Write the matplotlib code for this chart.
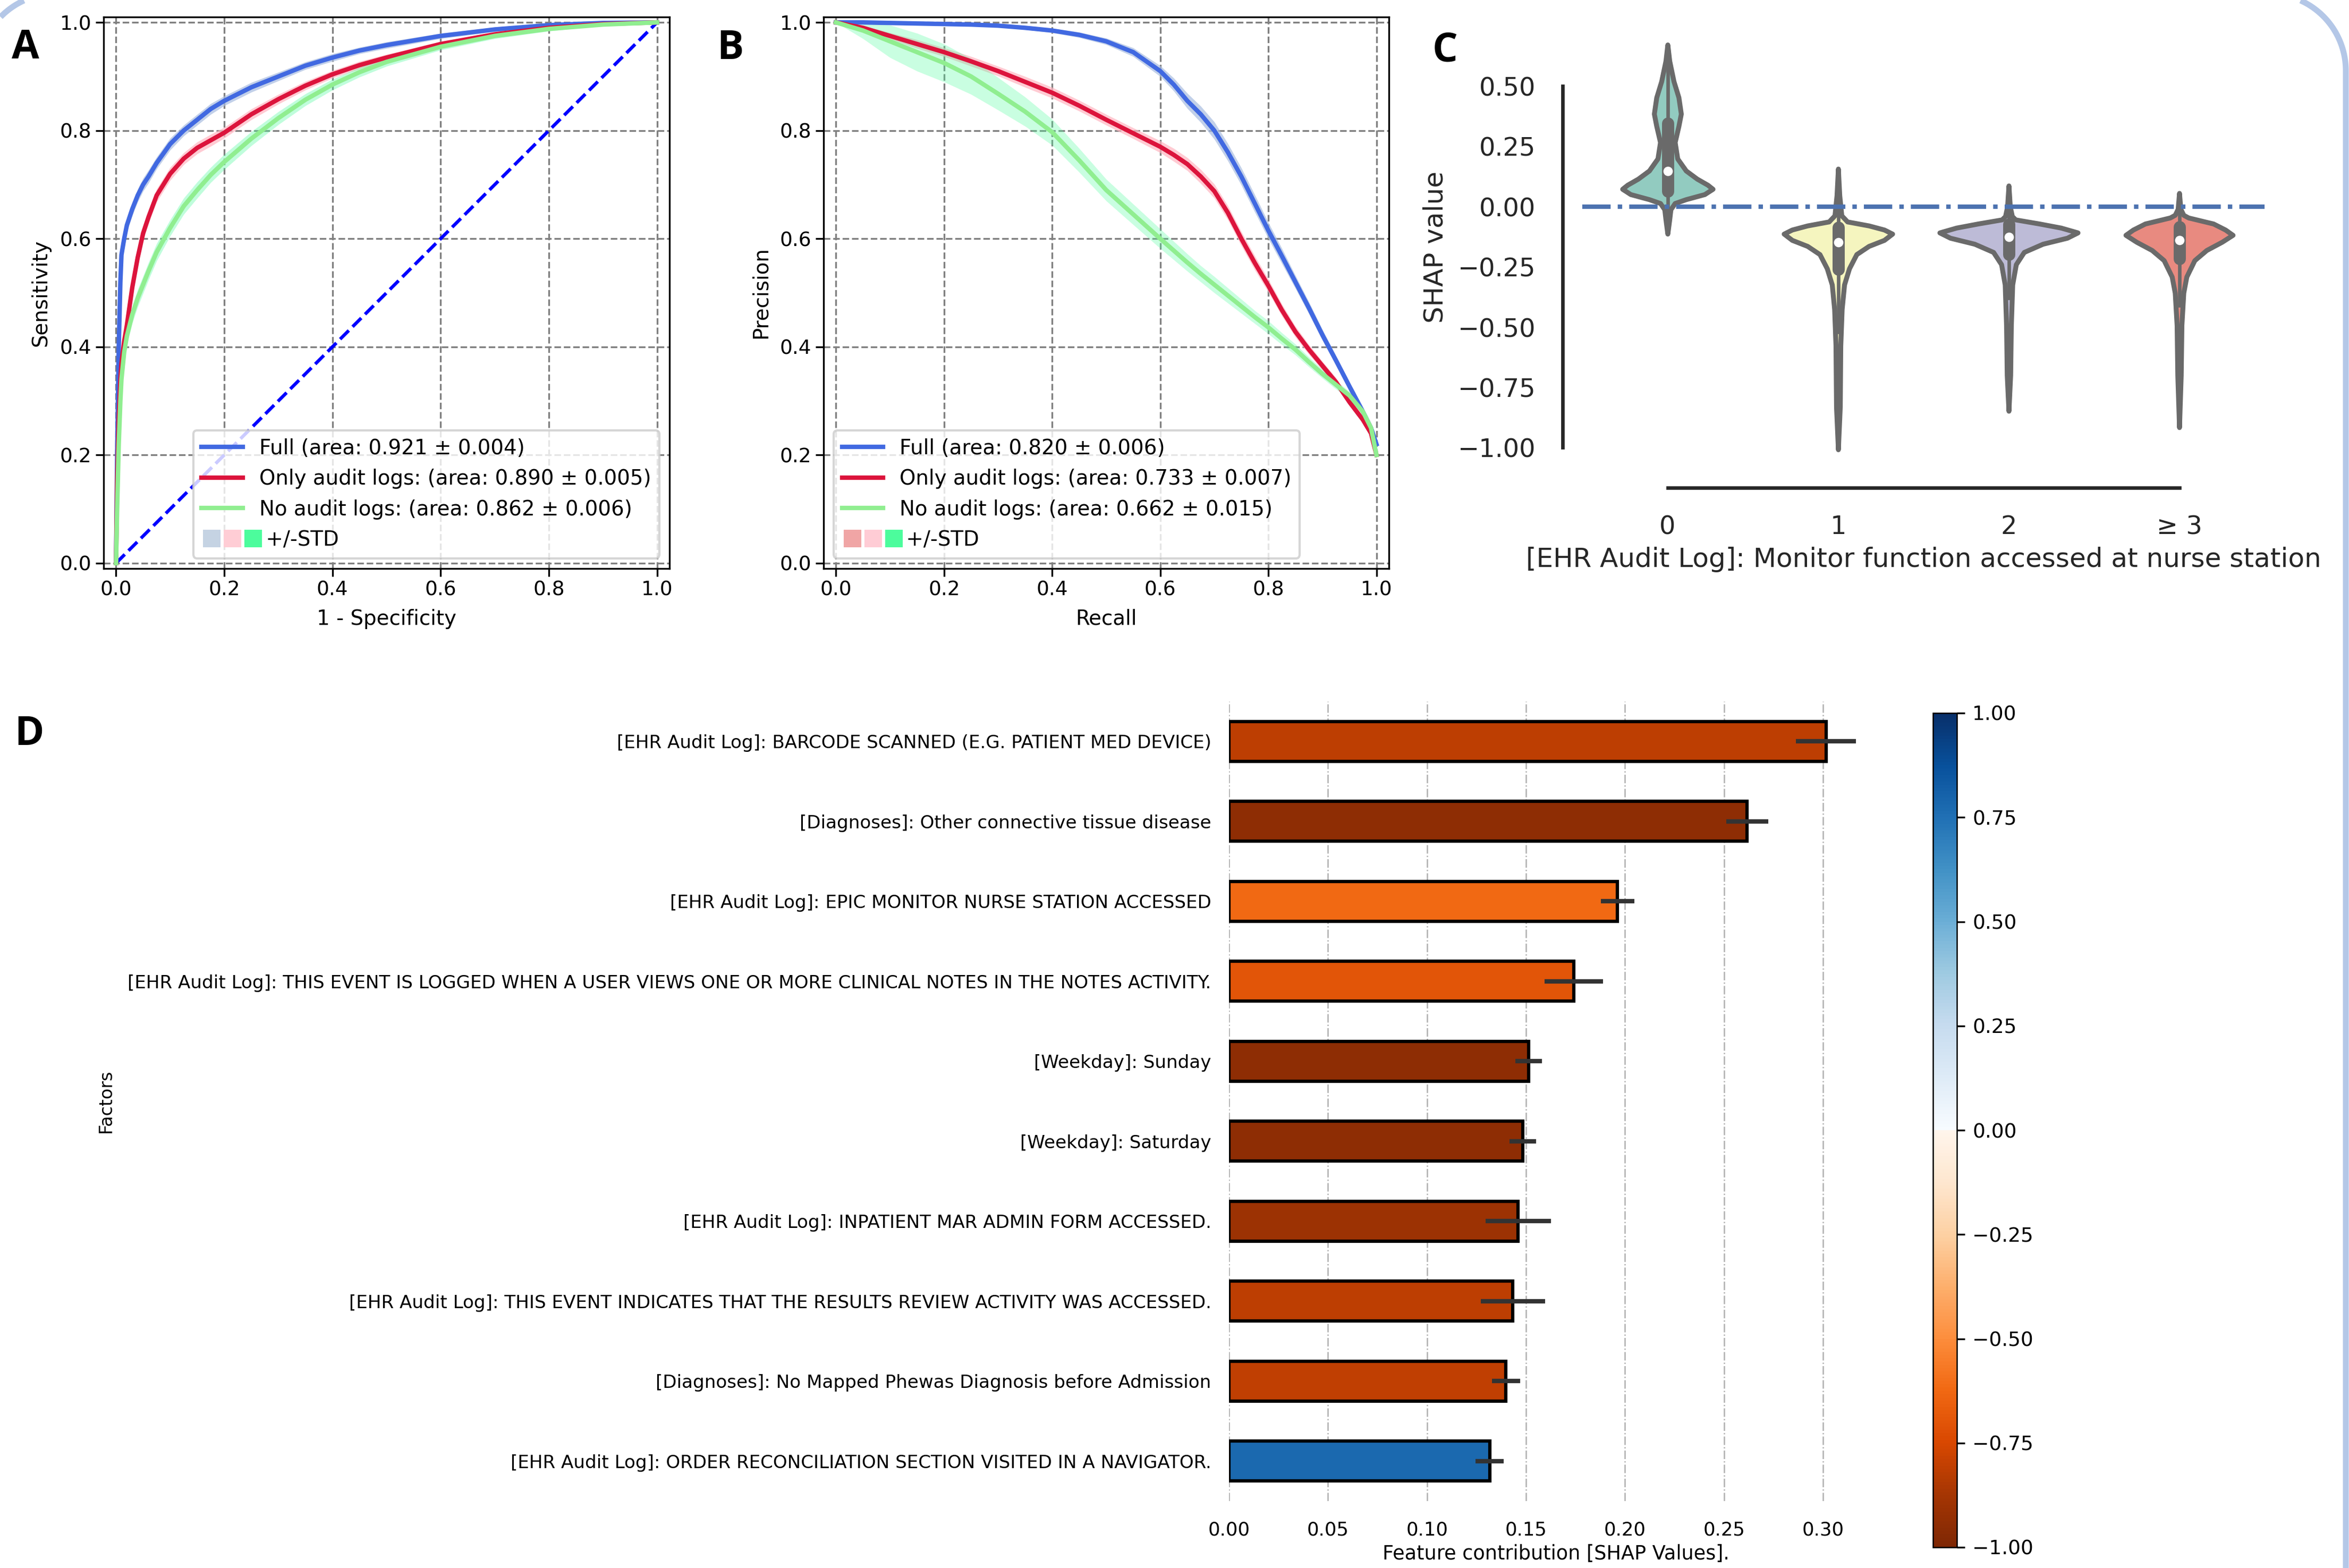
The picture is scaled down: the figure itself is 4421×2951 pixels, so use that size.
import numpy as np
import matplotlib
matplotlib.use("Agg")
import matplotlib.pyplot as plt
from matplotlib.colors import ListedColormap, Normalize
from matplotlib.patches import Rectangle
from matplotlib.lines import Line2D
from matplotlib.legend_handler import HandlerBase
from matplotlib.cm import ScalarMappable

plt.rcParams['font.family'] = ['DejaVu Sans']

# ---------------- Panel A : ROC ----------------
fpr = [0, 0.002, 0.005, 0.008, 0.01, 0.015, 0.02, 0.03, 0.04, 0.05, 0.06, 0.075, 0.1, 0.125,
       0.15, 0.175, 0.2, 0.25, 0.3, 0.35, 0.4, 0.45, 0.5, 0.6, 0.7, 0.8, 0.9, 1.0]
tpr_full = [0, 0.2, 0.4, 0.52, 0.57, 0.6, 0.625, 0.655, 0.68, 0.70, 0.715, 0.74, 0.775, 0.80,
            0.82, 0.84, 0.855, 0.88, 0.90, 0.92, 0.935, 0.948, 0.958, 0.975, 0.987, 0.995, 0.999, 1.0]
tpr_only = [0, 0.15, 0.27, 0.34, 0.37, 0.41, 0.44, 0.51, 0.565, 0.61, 0.64, 0.68, 0.72, 0.748,
            0.768, 0.782, 0.796, 0.83, 0.858, 0.883, 0.904, 0.921, 0.935, 0.96, 0.978, 0.99, 0.997, 1.0]
tpr_no = [0, 0.1, 0.22, 0.3, 0.34, 0.39, 0.42, 0.46, 0.49, 0.515, 0.54, 0.575, 0.62, 0.66,
          0.69, 0.718, 0.742, 0.785, 0.823, 0.857, 0.885, 0.908, 0.927, 0.955, 0.975, 0.988, 0.996, 1.0]
roc_std_full = [0, 0.01, 0.014, 0.014, 0.014, 0.012, 0.012, 0.012, 0.012, 0.012, 0.012, 0.011, 0.011, 0.01,
                0.01, 0.01, 0.009, 0.009, 0.008, 0.007, 0.007, 0.006, 0.006, 0.005, 0.004, 0.003, 0.002, 0]
roc_std_only = [0, 0.012, 0.015, 0.015, 0.015, 0.014, 0.014, 0.013, 0.013, 0.013, 0.012, 0.012, 0.012, 0.011,
                0.011, 0.011, 0.01, 0.01, 0.009, 0.008, 0.007, 0.007, 0.006, 0.005, 0.004, 0.003, 0.002, 0]
roc_std_no = [0, 0.012, 0.015, 0.016, 0.016, 0.016, 0.016, 0.016, 0.016, 0.016, 0.016, 0.016, 0.015, 0.015,
              0.015, 0.014, 0.014, 0.013, 0.012, 0.011, 0.01, 0.009, 0.008, 0.006, 0.005, 0.004, 0.002, 0]
roc_labels = ["Full (area: 0.921 \u00b1 0.004)",
              "Only audit logs: (area: 0.890 \u00b1 0.005)",
              "No audit logs: (area: 0.862 \u00b1 0.006)"]

# ---------------- Panel B : PR ----------------
recall = [0, 0.05, 0.1, 0.15, 0.2, 0.25, 0.3, 0.35, 0.4, 0.45, 0.5, 0.55, 0.6, 0.625, 0.65, 0.675,
          0.7, 0.725, 0.75, 0.775, 0.8, 0.825, 0.85, 0.875, 0.9, 0.925, 0.95, 0.975, 0.99, 1.0]
prec_full = [1.0, 1.0, 0.999, 0.998, 0.997, 0.996, 0.994, 0.99, 0.985, 0.977, 0.965, 0.945, 0.91, 0.885,
             0.855, 0.83, 0.8, 0.76, 0.715, 0.665, 0.615, 0.568, 0.52, 0.472, 0.422, 0.375, 0.327, 0.28, 0.25, 0.22]
prec_only = [1.0, 0.99, 0.975, 0.96, 0.945, 0.928, 0.91, 0.89, 0.87, 0.846, 0.82, 0.795, 0.77, 0.755,
             0.738, 0.715, 0.688, 0.648, 0.6, 0.555, 0.513, 0.468, 0.428, 0.395, 0.365, 0.335, 0.298, 0.265, 0.24, 0.2]
prec_no = [1.0, 0.985, 0.965, 0.945, 0.925, 0.9, 0.868, 0.835, 0.797, 0.745, 0.69, 0.645, 0.6, 0.578,
           0.556, 0.535, 0.515, 0.495, 0.475, 0.455, 0.436, 0.415, 0.395, 0.372, 0.35, 0.33, 0.31, 0.28, 0.25, 0.2]
pr_std_full = [0, 0.001, 0.001, 0.001, 0.001, 0.002, 0.002, 0.003, 0.004, 0.005, 0.006, 0.008, 0.01, 0.012,
               0.014, 0.015, 0.016, 0.016, 0.016, 0.016, 0.015, 0.014, 0.012, 0.011, 0.01, 0.009, 0.008, 0.007, 0.006, 0.005]
pr_std_only = [0, 0.004, 0.006, 0.008, 0.008, 0.009, 0.009, 0.01, 0.01, 0.01, 0.01, 0.01, 0.011, 0.012,
               0.012, 0.013, 0.013, 0.013, 0.013, 0.013, 0.012, 0.011, 0.01, 0.009, 0.008, 0.008, 0.007, 0.006, 0.005, 0.004]
pr_std_no = [0, 0.015, 0.03, 0.035, 0.035, 0.033, 0.03, 0.027, 0.024, 0.022, 0.02, 0.019, 0.018, 0.017,
             0.016, 0.015, 0.015, 0.014, 0.013, 0.012, 0.012, 0.011, 0.01, 0.009, 0.008, 0.008, 0.007, 0.006, 0.005, 0.004]
pr_labels = ["Full (area: 0.820 \u00b1 0.006)",
             "Only audit logs: (area: 0.733 \u00b1 0.007)",
             "No audit logs: (area: 0.662 \u00b1 0.015)"]

# ---------------- Panel C : violins (profiles) ----------------
violin_cats = ["0", "1", "2", "\u2265 3"]
v0_y = [0.672, 0.605, 0.52, 0.453, 0.385, 0.334, 0.267, 0.199, 0.149, 0.115, 0.09, 0.073, 0.051, 0.03, 0.014, -0.012, -0.054, -0.113]
v0_w = [0, 0.011, 0.036, 0.065, 0.079, 0.065, 0.043, 0.058, 0.108, 0.173, 0.235, 0.265, 0.217, 0.108, 0.043, 0.018, 0.011, 0]
v1_y = [0.157, 0.047, -0.037, -0.0625, -0.079, -0.096, -0.113, -0.139, -0.164, -0.198, -0.257, -0.324, -0.426, -0.578, -0.831, -1.008]
v1_w = [0, 0.008, 0.02, 0.054, 0.18, 0.27, 0.318, 0.27, 0.18, 0.108, 0.065, 0.036, 0.022, 0.014, 0.011, 0]
v2_y = [0.087, 0.0, -0.04, -0.054, -0.071, -0.088, -0.108, -0.13, -0.155, -0.189, -0.24, -0.324, -0.493, -0.7, -0.848]
v2_w = [0, 0.008, 0.02, 0.04, 0.18, 0.307, 0.405, 0.343, 0.2, 0.09, 0.043, 0.022, 0.014, 0.01, 0]
v3_y = [0.056, -0.01, -0.035, -0.046, -0.071, -0.096, -0.118, -0.147, -0.181, -0.223, -0.291, -0.358, -0.493, -0.7, -0.916]
v3_w = [0, 0.008, 0.025, 0.054, 0.2, 0.27, 0.314, 0.25, 0.16, 0.09, 0.043, 0.025, 0.014, 0.01, 0]
v_q1 = [0.063, -0.261, -0.198, -0.217]
v_q3 = [0.345, -0.087, -0.074, -0.085]
v_med = [0.147, -0.147, -0.125, -0.14]
v_wlo = [-0.08, -0.52, -0.38, -0.41]
v_whi = [0.62, 0.13, 0.06, 0.03]
violin_colors = ["#92cbc0", "#f5f5bf", "#bdbbd7", "#e88a80"]

# ---------------- Panel D : feature contributions ----------------
factors = [
    "[EHR Audit Log]: BARCODE SCANNED (E.G. PATIENT MED DEVICE)",
    "[Diagnoses]: Other connective tissue disease",
    "[EHR Audit Log]: EPIC MONITOR NURSE STATION ACCESSED",
    "[EHR Audit Log]: THIS EVENT IS LOGGED WHEN A USER VIEWS ONE OR MORE CLINICAL NOTES IN THE NOTES ACTIVITY.",
    "[Weekday]: Sunday",
    "[Weekday]: Saturday",
    "[EHR Audit Log]: INPATIENT MAR ADMIN FORM ACCESSED.",
    "[EHR Audit Log]: THIS EVENT INDICATES THAT THE RESULTS REVIEW ACTIVITY WAS ACCESSED.",
    "[Diagnoses]: No Mapped Phewas Diagnosis before Admission",
    "[EHR Audit Log]: ORDER RECONCILIATION SECTION VISITED IN A NAVIGATOR.",
]
shap_mean = [0.3015, 0.2616, 0.1962, 0.1741, 0.1513, 0.1483, 0.146, 0.1433, 0.1399, 0.1316]
shap_err = [0.0152, 0.0106, 0.0084, 0.0148, 0.0068, 0.0067, 0.0165, 0.0162, 0.0072, 0.007]
shap_corr = [-0.82, -0.95, -0.62, -0.70, -0.95, -0.95, -0.90, -0.82, -0.81, 0.78]

W, H, DPI = 4421, 2951, 300
fig = plt.figure(figsize=(W / DPI, H / DPI), dpi=DPI)


def px(xs, ys):
    """image pixel coords (origin top-left) -> figure fraction"""
    return np.asarray(xs) / W, 1 - np.asarray(ys) / H


# decorative rounded frame: only the visible parts (top-right corner + right edge, top-left corner)
R = 145
th = np.linspace(0, np.pi / 2, 60)
xr = 4270 + R * np.cos(th[::-1])
yr = 133 - R * np.sin(th[::-1])
keep = yr >= 0
fx, fy = px(np.concatenate([xr[keep], [4415, 4415]]), np.concatenate([yr[keep], [133, H]]))
fig.add_artist(Line2D(fx, fy, transform=fig.transFigure, color="#b4c7e7", lw=2.64, solid_capstyle="butt"))
xl = 105 - R * np.cos(th)
yl = 133 - R * np.sin(th)
keep = (xl >= 0) & (yl >= 0)
fx, fy = px(xl[keep], yl[keep])
fig.add_artist(Line2D(fx, fy, transform=fig.transFigure, color="#b4c7e7", lw=2.64, solid_capstyle="butt"))

line_cols = ["#4169e1", "#dc143c", "#90ee90"]


class SquaresHandler(HandlerBase):
    def create_artists(self, legend, orig_handle, xdescent, ydescent, width, height, fontsize, trans):
        size = 0.85 * fontsize
        gap = 0.16 * fontsize
        arts = []
        for i, c in enumerate(orig_handle.colors):
            r = Rectangle((-xdescent + 0.08 * fontsize + i * (size + gap), -ydescent + (height - size) / 2),
                          size, size, facecolor=c, edgecolor="none", transform=trans)
            arts.append(r)
        return arts


class Squares:
    def __init__(self, colors):
        self.colors = colors


def curve_panel(ax, x, ys, stds, band_cols, band_alpha, labels, legend_patch_cols, loc, diag):
    x = np.asarray(x)
    for y, s, bc, ba in zip(ys, stds, band_cols, band_alpha):
        y = np.asarray(y); s = np.asarray(s)
        ax.fill_between(x, y - s, y + s, color=bc, alpha=ba, lw=0, zorder=2)
    handles = []
    for y, c, lab in zip(ys, line_cols, labels):
        h, = ax.plot(x, y, color=c, lw=2, label=lab, zorder=3)
        handles.append(h)
    if diag:
        ax.plot([0, 1], [0, 1], color="b", ls="--", lw=1.5, zorder=2.5)
    ax.set_xlim(-0.023, 1.023)
    ax.set_ylim(-0.01, 1.01)
    ax.set_xticks(np.arange(0, 1.01, 0.2))
    ax.set_yticks(np.arange(0, 1.01, 0.2))
    ax.grid(True, ls="--", color="#808080", lw=0.8)
    ax.tick_params(labelsize=9, pad=2)
    sq = Squares(legend_patch_cols)
    handles.append(sq)
    ax.legend(handles, labels + [" +/-STD"], loc=loc, fontsize=9.3,
              handler_map={Squares: SquaresHandler()})


axA = fig.add_axes([195 / W, 1 - 1070 / H, 1065 / W, 1038 / H])
curve_panel(axA, fpr, [tpr_full, tpr_only, tpr_no], [roc_std_full, roc_std_only, roc_std_no],
            ["#a9bde0", "#ffb6c1", "#4cfc9c"], [0.7, 0.7, 0.35], roc_labels,
            ["#c5d3e3", "#ffcdd5", "#4cfc9c"], "lower right", True)
axA.set_xlabel("1 - Specificity", fontsize=9.3)
axA.set_ylabel("Sensitivity", fontsize=9.3)

axB = fig.add_axes([1550 / W, 1 - 1070 / H, 1064 / W, 1038 / H])
curve_panel(axB, recall, [prec_full, prec_only, prec_no], [pr_std_full, pr_std_only, pr_std_no],
            ["#a9bde0", "#ffb6c1", "#4cfc9c"], [0.7, 0.7, 0.3], pr_labels,
            ["#f0a5a5", "#ffccd5", "#4cfc9c"], "lower left", False)
axB.set_xlabel("Recall", fontsize=9.3)
axB.set_ylabel("Precision", fontsize=9.3)

# ---------------- Panel C ----------------
axC = fig.add_axes([2978 / W, 1 - 885 / H, 1284 / W, 839 / H])
profiles = [(v0_y, v0_w), (v1_y, v1_w), (v2_y, v2_w), (v3_y, v3_w)]
for i, ((vy, vw), col) in enumerate(zip(profiles, violin_colors)):
    vy = np.asarray(vy); vw = np.asarray(vw)
    axC.fill_betweenx(vy, i - vw, i + vw, facecolor=col, edgecolor="#6a6a6a", lw=2.2, zorder=2)
    axC.plot([i, i], [v_wlo[i], v_whi[i]], color="#6a6a6a", lw=1.6, zorder=3)
    axC.plot([i, i], [v_q1[i], v_q3[i]], color="#6a6a6a", lw=5.5, solid_capstyle="round", zorder=3)
    axC.scatter([i], [v_med[i]], s=18, color="white", zorder=4, lw=0)
axC.axhline(0, color="#4c72b0", lw=2, ls="-.", zorder=5)
axC.set_xlim(-0.5, 3.5)
axC.set_ylim(-1.094, 0.756)
axC.set_xticks(range(4))
axC.set_xticklabels(violin_cats)
axC.set_yticks([0.5, 0.25, 0.0, -0.25, -0.5, -0.75, -1.0])
axC.set_yticklabels(["0.50", "0.25", "0.00", "\u22120.25", "\u22120.50", "\u22120.75", "\u22121.00"])
for s in ["top", "right"]:
    axC.spines[s].set_visible(False)
axC.spines["left"].set_position(("outward", 9))
axC.spines["bottom"].set_position(("outward", 8))
axC.spines["left"].set_bounds(-1.0, 0.5)
axC.spines["bottom"].set_bounds(0, 3)
for s in ["left", "bottom"]:
    axC.spines[s].set_linewidth(1.6)
    axC.spines[s].set_color("#262626")
axC.tick_params(length=0, pad=12, labelsize=11.5, labelcolor="#262626")
axC.set_ylabel("SHAP value", fontsize=12, color="#262626")
axC.set_xlabel("[EHR Audit Log]: Monitor function accessed at nurse station", fontsize=12, color="#262626")
axC.yaxis.set_label_coords(-0.197, 0.5)
axC.xaxis.set_label_coords(0.5, -0.172)

# ---------------- Panel D ----------------
cols = np.vstack([plt.cm.Oranges_r(np.linspace(0, 1, 128)), plt.cm.Blues(np.linspace(0, 1, 128))])
cmap = ListedColormap(cols)
norm = Normalize(-1, 1)
axD = fig.add_axes([2313 / W, 1 - 2825 / H, 1230 / W, 1505 / H])
ypos = np.arange(len(factors))
axD.barh(ypos, shap_mean, height=0.5, color=cmap(norm(np.asarray(shap_corr))),
         edgecolor="black", lw=1.5, zorder=2)
axD.errorbar(shap_mean, ypos, xerr=shap_err, fmt="none", ecolor="#333333", elinewidth=2, capsize=0, zorder=3)
axD.set_ylim(9.5, -0.5)
axD.set_xlim(0, 0.33)
axD.set_yticks(ypos)
axD.set_yticklabels(factors, fontsize=8.2)
axD.set_xticks(np.arange(0, 0.301, 0.05))
axD.set_xticklabels(["%.2f" % v for v in np.arange(0, 0.301, 0.05)], fontsize=8.5)
axD.tick_params(length=0)
axD.tick_params(axis="y", pad=8)
axD.tick_params(axis="x", pad=9)
for s in axD.spines.values():
    s.set_visible(False)
axD.set_axisbelow(True)
axD.xaxis.grid(True, ls="-.", color="#b0b0b0", lw=0.6)
axD.set_xlabel("Feature contribution [SHAP Values].", fontsize=8.8, labelpad=2)
axD.set_ylabel("Factors", fontsize=8)
axD.yaxis.set_label_coords(-1.705, 0.5)

cax = fig.add_axes([3638 / W, 1 - 2912 / H, 45 / W, 1570 / H])
sm = ScalarMappable(norm=norm, cmap=cmap)
cb = fig.colorbar(sm, cax=cax, ticks=np.arange(-1, 1.01, 0.25))
cb.ax.set_yticklabels(["%.2f" % v if v >= 0 else "\u2212%.2f" % -v for v in np.arange(-1, 1.01, 0.25)])
cb.ax.tick_params(labelsize=9)
cb.outline.set_linewidth(0.6)

# panel letters
for txt, x, y in [("A", 22, 110), ("B", 1349, 111), ("C", 2696, 116), ("D", 27, 1402)]:
    fig.text(x / W, 1 - y / H, txt, fontsize=18, fontweight="bold", family=["Open Sans", "DejaVu Sans"],
             va="baseline", ha="left")

fig.savefig("out.png", dpi=DPI)
